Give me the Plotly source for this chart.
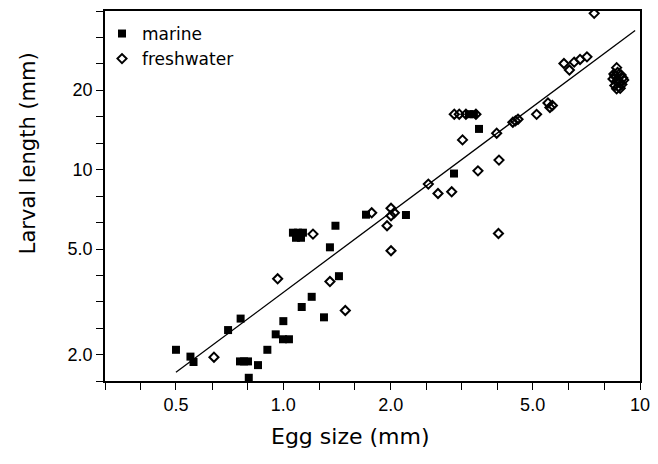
import numpy as np
import plotly.graph_objects as go

# ---- data (egg size mm, larval length mm) ----
marine_x = [0.50, 0.549, 0.560, 0.700, 0.759, 0.756, 0.776, 0.796, 0.800, 0.849,
            0.902, 0.952, 0.998, 1.037, 1.000, 1.126, 1.201, 1.30, 1.432, 1.351,
            1.40, 1.705, 2.207, 3.01, 3.537, 3.315, 3.423,
            1.064, 1.099, 1.135, 1.085, 1.121]
marine_y = [2.08, 1.96, 1.87, 2.47, 2.73, 1.88, 1.88, 1.88, 1.63, 1.82,
            2.08, 2.38, 2.28, 2.28, 2.67, 3.02, 3.30, 2.76, 3.95, 5.08,
            6.13, 6.75, 6.73, 9.66, 14.25, 16.2, 16.2,
            5.77, 5.77, 5.77, 5.52, 5.52]

fresh_x = [0.639, 0.964, 1.211, 1.351, 1.492, 1.769, 2.004, 2.047, 2.004, 1.953,
           2.004, 2.55, 2.714, 2.965, 3.18, 3.015, 3.113, 3.25, 3.467, 3.513,
           3.964, 4.024, 4.01, 4.40, 4.476, 4.55, 5.13, 5.52, 5.59, 5.68,
           6.12, 6.34, 6.54, 6.79, 7.10, 7.44,
           8.60, 8.45, 8.65, 8.85, 8.95, 8.40, 8.60, 8.80, 9.00, 8.50, 8.70,
           8.90, 8.60, 8.80, 8.50]
fresh_y = [1.95, 3.86, 5.70, 3.77, 2.93, 6.86, 7.14, 6.86, 6.69, 6.13,
           4.93, 8.81, 8.12, 8.24, 12.95, 16.2, 16.2, 16.2, 16.2, 9.89,
           13.73, 10.86, 5.73, 15.1, 15.28, 15.5, 16.18, 17.87, 17.18, 17.48,
           25.2, 23.8, 25.5, 26.1, 26.7, 39.0,
           24.3, 23.0, 23.3, 22.8, 22.2, 22.0, 21.6, 21.4, 21.8, 20.8, 20.6,
           21.0, 20.2, 20.3, 22.6]

fit_x = [0.50, 9.69]
fit_y = [1.71, 33.6]

x_tick_vals = [0.5, 1.0, 2.0, 5.0, 10.0]
x_tick_text = ["0.5", "1.0", "2.0", "5.0", "10"]
y_tick_vals = [2.0, 5.0, 10.0, 20.0]
y_tick_text = ["2.0", "5.0", "10", "20"]

x_log_range = [-0.5, 1.0]
y_log_range = [0.2, 1.6]


def build_ticks(log_range, labeled, labels):
    vals, texts = list(labeled), list(labels)
    n = int(round((log_range[1] - log_range[0]) / 0.1))
    for k in range(n + 1):
        v = 10 ** (log_range[0] + 0.1 * k)
        if all(abs(np.log10(v) - np.log10(l)) > 0.02 for l in labeled):
            vals.append(v)
            texts.append("")
    return vals, texts


xtv, xtt = build_ticks(x_log_range, x_tick_vals, x_tick_text)
ytv, ytt = build_ticks(y_log_range, y_tick_vals, y_tick_text)

fig = go.Figure()
fig.add_trace(go.Scatter(
    x=fit_x, y=fit_y, mode="lines", line=dict(color="black", width=1.3),
    showlegend=False, hoverinfo="skip"))
fig.add_trace(go.Scatter(
    x=marine_x, y=marine_y, mode="markers", name="marine",
    marker=dict(symbol="square", size=8, color="black",
                line=dict(color="black", width=0))))
fig.add_trace(go.Scatter(
    x=fresh_x, y=fresh_y, mode="markers", name="freshwater",
    marker=dict(symbol="diamond-open", size=7, color="black",
                line=dict(color="black", width=2))))

axis_common = dict(
    showline=True, linecolor="black", linewidth=1.5, mirror=True,
    ticks="outside", ticklen=7, tickwidth=1, tickcolor="black",
    showgrid=False, zeroline=False,
    tickfont=dict(family="Liberation Sans, Arial", size=18, color="black"),
)

fig.update_xaxes(type="log", range=x_log_range, tickmode="array",
                 tickvals=xtv, ticktext=xtt, **axis_common)
fig.update_yaxes(type="log", range=y_log_range, tickmode="array",
                 tickvals=ytv, ticktext=ytt, **axis_common)

# figure is placed 8px in from the page corner (body margin)
L, T, PW, PH = 97, 1, 535, 372
fig.add_annotation(text="Egg size (mm)", xref="paper", yref="paper",
                   x=(342 - L) / PW, y=-(429 - (T + PH)) / PH,
                   showarrow=False, xanchor="center", yanchor="middle",
                   font=dict(family="DejaVu Sans", size=22, color="black"))
fig.add_annotation(text="Larval length (mm)", xref="paper", yref="paper",
                   x=-(L - 20) / PW, y=((T + PH) - 144) / PH, textangle=-90,
                   showarrow=False, xanchor="center", yanchor="middle",
                   font=dict(family="DejaVu Sans", size=21, color="black"))

fig.update_layout(
    width=650, height=456,
    margin=dict(l=L, r=650 - L - PW, t=T, b=456 - T - PH),
    paper_bgcolor="white", plot_bgcolor="white",
    legend=dict(x=-3 / PW, y=1 - 5 / PH, xanchor="left", yanchor="top",
                bgcolor="rgba(0,0,0,0)",
                font=dict(family="DejaVu Sans", size=17, color="black")),
)

fig.write_html("out.html")
